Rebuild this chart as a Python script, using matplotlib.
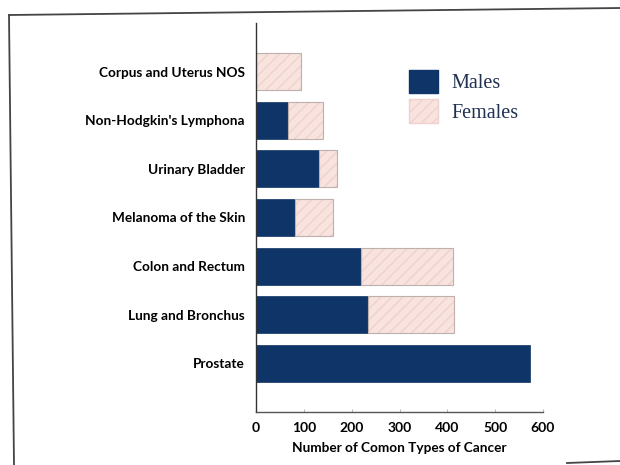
import matplotlib.pyplot as plt
from matplotlib.lines import Line2D
from matplotlib.patches import Patch

categories = ["Prostate", "Lung and Bronchus", "Colon and Rectum",
              "Melanoma of the Skin", "Urinary Bladder",
              "Non-Hodgkin's Lymphona", "Corpus and Uterus NOS"]
males = [572, 235, 220, 82, 132, 67, 0]
females = [0, 178, 191, 79, 38, 73, 94]
xticks = [0, 100, 200, 300, 400, 500, 600]

male_col = "#0f3467"
fem_col = "#f8e3de"
hatch_col = "#efd2cc"

fig = plt.figure(figsize=(6.2, 4.65), dpi=100)
ax = fig.add_axes([256/620, 53/465, 287/620, 389/465])

lab_font = dict(family=["Lato", "DejaVu Sans"], weight="bold")

y = list(range(len(categories)))
ax.barh(y, males, height=0.76, color=male_col, edgecolor=male_col, linewidth=0.5)
ax.barh(y, females, left=males, height=0.76, color=fem_col,
        edgecolor=hatch_col, linewidth=0, hatch="///")
# thin outline on the female part
for yi, m, f in zip(y, males, females):
    if f > 0:
        ax.barh(yi, f, left=m, height=0.76, fill=False,
                edgecolor="#bfb0ae", linewidth=0.8)

ax.set_xlim(0, 600)
ax.set_ylim(-1, 7)
ax.set_yticks(y)
ax.set_yticklabels(categories, fontsize=9.8, **lab_font)
ax.set_xticks(xticks)
ax.set_xticklabels([str(t) for t in xticks], fontsize=10, **lab_font)
ax.tick_params(axis="y", length=0, pad=8)
ax.tick_params(axis="x", length=2, color="#bbbbbb", direction="in", pad=7)
ax.set_xlabel("Number of Comon Types of Cancer", fontsize=9.8, labelpad=6, **lab_font)

for s in ["top", "right"]:
    ax.spines[s].set_visible(False)
ax.spines["left"].set_color("#333333")
ax.spines["bottom"].set_color("#555555")
ax.spines["left"].set_linewidth(1.0)
ax.spines["bottom"].set_linewidth(1.0)

handles = [Patch(facecolor=male_col, edgecolor=male_col),
           Patch(facecolor=fem_col, edgecolor=hatch_col, hatch="///")]
ax.legend(handles, ["Males", "Females"], loc="upper left",
          bbox_to_anchor=(409/620, (465-70)/465), bbox_transform=fig.transFigure,
          frameon=False, borderpad=0, borderaxespad=0,
          handlelength=1.45, handleheight=1.4, handletextpad=0.65,
          labelspacing=0.3,
          prop=dict(family="Liberation Serif", size=14.5),
          labelcolor="#1f3050")

# scanned page frame
fig.add_artist(Line2D([9/620, 1.0], [1-15/465, 1-8/465], color="#444444",
                      lw=1.3, transform=fig.transFigure))
fig.add_artist(Line2D([9/620, 14/620], [1-15/465, 0.0], color="#444444",
                      lw=1.3, transform=fig.transFigure))
fig.add_artist(Line2D([567/620, 1.0], [2/465, 4/465], color="#444444",
                      lw=1.3, transform=fig.transFigure))

fig.savefig("out.png", dpi=100)
